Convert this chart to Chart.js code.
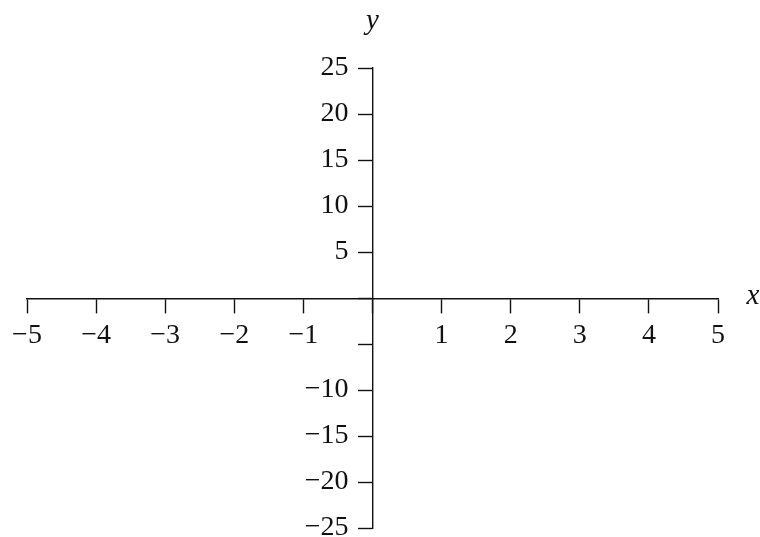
<!DOCTYPE html>
<html>
<head>
<meta charset="utf-8">
<script src="https://cdn.jsdelivr.net/npm/chart.js@4/dist/chart.umd.min.js"></script>
<style>
  html, body { margin: 0; padding: 0; background: #fff; }
  #wrap { width: 760px; height: 537px; }
</style>
</head>
<body>
<div id="wrap"><canvas id="plane"></canvas></div>
<script>
// axis ranges and tick positions of the coordinate plane
const xTicks = [-5, -4, -3, -2, -1, 0, 1, 2, 3, 4, 5];
const yTicks = [-25, -20, -15, -10, -5, 0, 5, 10, 15, 20, 25];
// tick values that get no printed label (they sit on the other axis)
const xHiddenLabels = [0];
const yHiddenLabels = [0, -5];
const xTitle = 'x';
const yTitle = 'y';

const serif = "'Liberation Serif', 'DejaVu Serif', serif";
const ink = '#111';

function fmt(v) {
  return v < 0 ? '\u2212' + Math.abs(v) : String(v);
}

// draws the italic x / y names at the ends of the axes
const axisNames = {
  id: 'axisNames',
  afterDraw(chart) {
    const ctx = chart.ctx;
    const xs = chart.scales.x, ys = chart.scales.y;
    ctx.save();
    ctx.fillStyle = ink;
    ctx.font = "italic 29px " + serif;
    ctx.textAlign = 'center';
    ctx.textBaseline = 'middle';
    ctx.fillText(xTitle, xs.right + 35, ys.getPixelForValue(0) - 2);
    ctx.fillText(yTitle, xs.getPixelForValue(0), ys.top - 47);
    ctx.restore();
  }
};

new Chart(document.getElementById('plane'), {
  type: 'scatter',
  data: { datasets: [{ data: [], pointRadius: 0 }] },
  plugins: [axisNames],
  options: {
    responsive: true,
    maintainAspectRatio: false,
    animation: false,
    layout: { padding: { left: 27, right: 42, top: 68, bottom: 9 } },
    plugins: { legend: { display: false }, tooltip: { enabled: false } },
    scales: {
      x: {
        type: 'linear',
        min: -5,
        max: 5,
        position: 'center',
        // axes cross inside the plot, so they take no room of their own
        afterFit: s => { s.height = 0; s.paddingLeft = 0; s.paddingRight = 0; },
        afterBuildTicks: s => { s.ticks = xTicks.map(v => ({ value: v })); },
        ticks: {
          autoSkip: false,
          maxRotation: 0,
          padding: 7,
          color: ink,
          font: { family: serif, size: 28 },
          callback: v => xHiddenLabels.includes(v) ? '' : fmt(v)
        },
        grid: { drawOnChartArea: false, tickLength: 14, tickWidth: 1.4, tickColor: ink },
        border: { color: ink, width: 1.4 }
      },
      y: {
        type: 'linear',
        min: -25,
        max: 25,
        position: 'center',
        afterFit: s => { s.width = 0; s.paddingTop = 0; s.paddingBottom = 0; },
        afterBuildTicks: s => { s.ticks = yTicks.map(v => ({ value: v })); },
        ticks: {
          autoSkip: false,
          padding: 10,
          color: ink,
          font: { family: serif, size: 28 },
          callback: v => yHiddenLabels.includes(v) ? '' : fmt(v)
        },
        grid: { drawOnChartArea: false, tickLength: 14, tickWidth: 1.4, tickColor: ink },
        border: { color: ink, width: 1.4 }
      }
    }
  }
});
</script>
</body>
</html>
